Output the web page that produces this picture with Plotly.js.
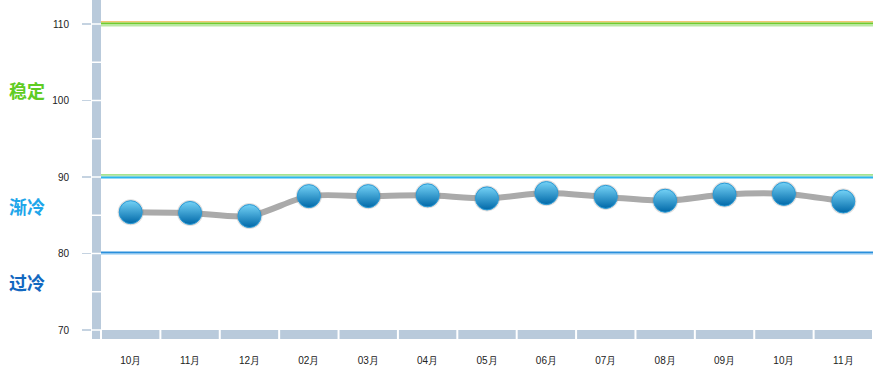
<!DOCTYPE html>
<html>
<head>
<meta charset="utf-8">
<script src="https://cdn.plot.ly/plotly-3.0.1.min.js"></script>
<style>html,body{margin:0;padding:0;background:#fff;}#chart{width:880px;height:384px;}</style>
</head>
<body>
<div id="chart"></div>
<script>
const months = ["10月","11月","12月","02月","03月","04月","05月","06月","07月","08月","09月","10月","11月"];
const values = [85.4, 85.3, 84.9, 87.5, 87.5, 87.6, 87.2, 87.9, 87.4, 86.9, 87.7, 87.8, 86.8];
const yTicks = [70, 80, 90, 100, 110];
const minorTicks = [75, 85, 95, 105];
const zoneLabels = ["稳定", "渐冷", "过冷"];
const zoneLabelY = [101.4, 86.2, 76.3];
const zoneColors = ["#5fcc22", "#1ea6ea", "#1268c0"];

const cats = months.map((m, i) => i);
const W = 781, H = 339;
const pxPerCat = 772 / months.length;
const pxPerUnit = 7.65;

const shapes = [];
shapes.push({type:'rect', xref:'paper', yref:'paper', x0:0, x1:9/W, y0:0, y1:1, fillcolor:'#b9cadb', line:{width:0}, layer:'above'});
shapes.push({type:'rect', xref:'paper', yref:'paper', x0:0, x1:1, y0:0, y1:9/H, fillcolor:'#b9cadb', line:{width:0}, layer:'above'});
yTicks.concat(minorTicks).forEach(v => {
  shapes.push({type:'line', xref:'paper', yref:'y', x0:0, x1:9/W, y0:v, y1:v, line:{color:'#ffffff', width:1.5}, layer:'above'});
});
for (let i = 0; i <= months.length; i++) {
  shapes.push({type:'line', xref:'x', yref:'paper', x0:i-0.5, x1:i-0.5, y0:0, y1:9/H, line:{color:'#ffffff', width:2}, layer:'above'});
}
function band(v, p0, p1, color) {
  shapes.push({type:'rect', xref:'paper', yref:'y', ysizemode:'pixel', yanchor:v, x0:9/W, x1:1, y0:p0, y1:p1, fillcolor:color, line:{width:0}, layer:'below'});
}
band(110, 1.5, 3, '#f3c674');
band(110, -0.5, 1.5, '#6fcc2e');
band(110, -2.5, -0.5, '#b9e9a4');
band(90, 1.5, 3, '#a8e48e');
band(90, 0.5, 1.5, '#8fdc9a');
band(90, -1.5, 0.5, '#2cb6ee');
band(80, 0, 2, '#2a8fdc');
band(80, -1, 0, '#86c4ef');

const annotations = zoneLabels.map((t, i) => ({
  text: '<b>' + t + '</b>', xref:'paper', yref:'y', x:-85/W, y:zoneLabelY[i], xanchor:'left', yanchor:'middle',
  showarrow:false, font:{family:'Noto Sans CJK SC', size:18, color:zoneColors[i]}
}));

const traces = [
  {x:cats, y:values, type:'scatter', mode:'lines', line:{color:'#aaaaaa', width:6, shape:'spline', smoothing:0.8}, hoverinfo:'skip'},
  {x:cats, y:values, type:'scatter', mode:'markers', marker:{size:26, color:'rgba(120,120,120,0.25)', line:{width:0}}, hoverinfo:'skip'},
  {x:cats, y:values, type:'scatter', mode:'markers', marker:{size:23, color:'#74d2f6', gradient:{type:'vertical', color:'#0068a8'}, line:{color:'#2a9ad6', width:1}}}
];

const layout = {
  width:880, height:384,
  margin:{l:92, r:7, t:0, b:45},
  showlegend:false,
  paper_bgcolor:'#ffffff', plot_bgcolor:'#ffffff',
  xaxis:{
    range:[-0.5 - 9/pxPerCat, months.length - 0.5],
    tickmode:'array', tickvals:cats, ticktext:months,
    ticks:'outside', ticklen:12, tickcolor:'rgba(0,0,0,0)',
    showgrid:false, zeroline:false, showline:false,
    tickfont:{family:'Liberation Sans, Arial', size:10, color:'#222'}
  },
  yaxis:{
    range:[70 - 9/pxPerUnit, 110 + 24/pxPerUnit],
    tickmode:'array', tickvals:yTicks, ticktext:yTicks.map(String),
    ticks:'outside', ticklen:9, tickcolor:'#c5d3e1', tickwidth:1.5,
    ticklabelstandoff:11,
    showgrid:false, zeroline:false, showline:false,
    tickfont:{family:'Liberation Sans, Arial', size:10, color:'#222'}
  },
  shapes:shapes,
  annotations:annotations
};

Plotly.newPlot('chart', traces, layout, {displayModeBar:false, staticPlot:true});
</script>
</body>
</html>
